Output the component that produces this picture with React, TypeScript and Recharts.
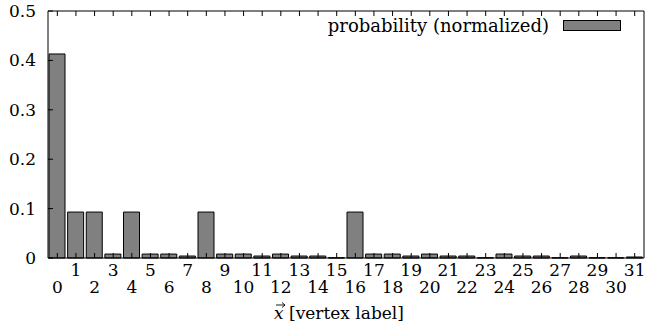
import React from "react";
import { BarChart, Bar, XAxis, YAxis, Legend } from "recharts";

const labels: string[] = [
  "0", "1", "2", "3", "4", "5", "6", "7", "8", "9", "10", "11", "12", "13", "14", "15",
  "16", "17", "18", "19", "20", "21", "22", "23", "24", "25", "26", "27", "28", "29", "30", "31",
];
const probability: number[] = [
  0.413, 0.093, 0.093, 0.008, 0.093, 0.008, 0.008, 0.004, 0.093, 0.008, 0.008, 0.004, 0.008,
  0.004, 0.004, 0.0005, 0.093, 0.008, 0.008, 0.004, 0.008, 0.004, 0.004, 0.0005, 0.008, 0.004,
  0.004, 0.0005, 0.004, 0.0005, 0.0005, 0.002,
];
const yTicks: number[] = [0, 0.1, 0.2, 0.3, 0.4, 0.5];

const data = labels.map((l, i) => ({ label: l, p: probability[i] }));

const FONT = "DejaVu Serif";
const FS = 17;

function BottomTick(props: any) {
  const { x, y, payload, index } = props;
  return (
    <g>
      <line x1={x} x2={x} y1={y} y2={y - 5} stroke="#000" />
      <text x={x} y={index % 2 ? y + 18 : y + 35} textAnchor="middle" fontFamily={FONT} fontSize={FS} fill="#000">
        {payload.value}
      </text>
    </g>
  );
}

function TopTick(props: any) {
  const { x, y } = props;
  return <line x1={x} x2={x} y1={y} y2={y + 5} stroke="#000" />;
}

function LeftTick(props: any) {
  const { x, y, payload } = props;
  return (
    <g>
      <line x1={x} x2={x + 5} y1={y} y2={y} stroke="#000" />
      <text x={x - 12} y={y + 6} textAnchor="end" fontFamily={FONT} fontSize={FS} fill="#000">
        {String(payload.value)}
      </text>
    </g>
  );
}

function RightTick(props: any) {
  const { x, y } = props;
  return <line x1={x} x2={x - 5} y1={y} y2={y} stroke="#000" />;
}

function AxisTitle(props: any) {
  const { viewBox } = props;
  const left = viewBox.x + viewBox.width / 2 - 72;
  const by = viewBox.y + 61;
  const ay = by - 14;
  return (
    <g>
      <path
        d={`M${left + 2},${ay} L${left + 11},${ay} M${left + 8},${ay - 2.5} L${left + 11},${ay} L${left + 8},${ay + 2.5}`}
        stroke="#000"
        strokeWidth={0.9}
        fill="none"
      />
      <text x={left} y={by} fontFamily={FONT} fontSize={FS} fill="#000">
        <tspan fontStyle="italic">x</tspan> [vertex label]
      </text>
    </g>
  );
}

function LegendBox() {
  return (
    <div style={{ display: "flex", alignItems: "center", fontFamily: FONT, fontSize: 18 }}>
      <span>probability (normalized)</span>
      <span
        style={{
          display: "inline-block",
          width: 56,
          height: 9,
          background: "#808080",
          border: "1px solid #000",
          marginLeft: 14,
        }}
      />
    </div>
  );
}

export default function App() {
  return (
    <div style={{ position: "absolute", left: 0, top: 0, width: 645, height: 336, overflow: "hidden", background: "#fff" }}>
      <BarChart
        width={650}
        height={336}
        data={data}
        margin={{ top: 10, right: 0, left: 0, bottom: 0 }}
        barSize={16}
        style={{ overflow: "visible" }}
      >
        <XAxis
          dataKey="label"
          height={78}
          interval={0}
          tickSize={0}
          tickMargin={0}
          axisLine={{ stroke: "#000" }}
          tick={<BottomTick />}
          label={<AxisTitle />}
        />
        <XAxis
          xAxisId="top"
          orientation="top"
          dataKey="label"
          height={1}
          interval={0}
          tickSize={0}
          tickMargin={0}
          axisLine={{ stroke: "#000" }}
          tick={<TopTick />}
        />
        <YAxis
          width={48}
          domain={[0, 0.5]}
          ticks={yTicks}
          tickSize={0}
          tickMargin={0}
          axisLine={{ stroke: "#000" }}
          tick={<LeftTick />}
        />
        <YAxis
          yAxisId="right"
          orientation="right"
          width={6}
          domain={[0, 0.5]}
          ticks={yTicks}
          tickSize={0}
          tickMargin={0}
          axisLine={{ stroke: "#000" }}
          tick={<RightTick />}
        />
        <Legend
          content={<LegendBox />}
          layout="horizontal"
          verticalAlign="middle"
          align="center"
          wrapperStyle={{ top: 15, right: 29, left: "auto", bottom: "auto", width: "auto" }}
        />
        <Bar dataKey="p" fill="#808080" stroke="#000" strokeWidth={1} isAnimationActive={false} />
      </BarChart>
    </div>
  );
}
